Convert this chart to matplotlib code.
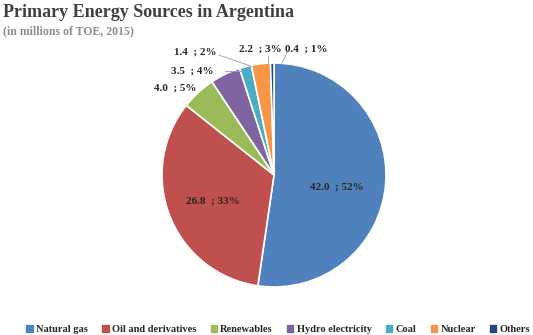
import numpy as np
import matplotlib.pyplot as plt

plt.rcParams['font.family'] = ['Liberation Serif', 'DejaVu Serif']

sources = ['Natural gas', 'Oil and derivatives', 'Renewables', 'Hydro electricity',
           'Coal', 'Nuclear', 'Others']
mtoe = [42.0, 26.8, 4.0, 3.5, 1.4, 2.2, 0.4]
shares = [52, 33, 5, 4, 2, 3, 1]
colors = ['#4F81BD', '#C0504D', '#9BBB59', '#8064A2', '#4BACC6', '#F79646', '#1F497D']

# label placement (data units, pie radius = 1) and leader line end points
label_pos = [(0.56, -0.11), (-0.55, -0.23), (-0.88, 0.78), (-0.73, 0.93),
             (-0.70, 1.10), (-0.12, 1.12), (0.29, 1.12)]
leaders = [None, None, None,
           ((-0.44, 0.93), (-0.30, 0.93)),
           ((-0.49, 1.07), (-0.20, 0.97)),
           ((-0.05, 1.06), (-0.05, 0.99)),
           ((0.12, 1.10), (0.07, 1.00))]

fig = plt.figure(figsize=(5.33, 3.35), dpi=100)
R = 112
cx, cy = 274, 175
half = 150
ax = fig.add_axes([(cx - half) / 533, (335 - cy - half) / 335, 2 * half / 533, 2 * half / 335])
ax.pie(mtoe, colors=colors, startangle=90, counterclock=False, radius=1,
       wedgeprops=dict(edgecolor='white', linewidth=1.2))
lim = half / R
ax.set_xlim(-lim, lim)
ax.set_ylim(-lim, lim)
ax.set_aspect('equal')
ax.axis('off')

for i, (v, p) in enumerate(zip(mtoe, shares)):
    x, y = label_pos[i]
    ax.text(x, y, f'{v:.1f}  ; {p}%', ha='center', va='center', fontsize=8,
            fontweight='bold', color='#262626', clip_on=False)
    if leaders[i] is not None:
        (x0, y0), (x1, y1) = leaders[i]
        ax.plot([x0, x1], [y0, y1], color='#A6A6A6', lw=0.7, clip_on=False)

fig.text(0.006, 0.988, 'Primary Energy Sources in Argentina', ha='left', va='top',
         fontsize=13, fontweight='bold', color='#404040')
fig.text(0.006, 0.925, '(in millions of TOE, 2015)', ha='left', va='top',
         fontsize=8.5, fontweight='bold', color='#8C8C8C')

handles = [plt.Rectangle((0, 0), 1, 1, color=c) for c in colors]
fig.legend(handles, sources, loc='lower center', bbox_to_anchor=(0.522, -0.025), ncol=7,
           frameon=False, prop=dict(size=7.5, weight='bold'), handlelength=0.6,
           handleheight=0.6, handletextpad=0.3, columnspacing=1.4,
           labelcolor='#262626')

fig.savefig('out.png', dpi=100)
